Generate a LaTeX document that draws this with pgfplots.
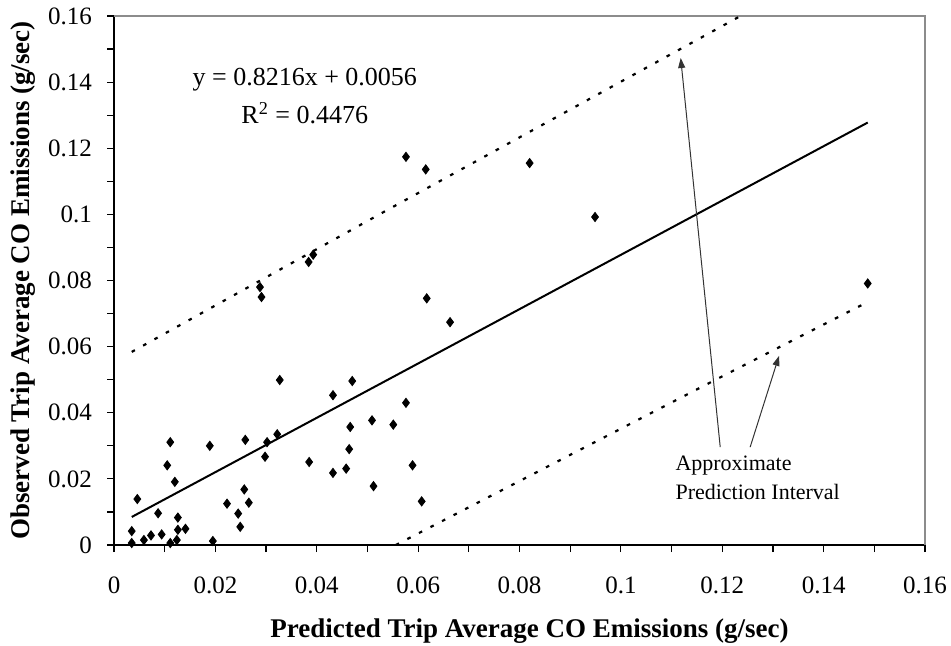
\documentclass[border=0pt]{standalone}
\usepackage{fontspec}
\setmainfont{Liberation Serif}
\usepackage{pgfplots}
\pgfplotsset{compat=1.18}
\usetikzlibrary{calc,arrows.meta}

\pgfplotstableread{
x y
0.0035 0.0042
0.0035 0.0006
0.0046 0.0139
0.0059 0.0015
0.0073 0.0029
0.0087 0.0096
0.0094 0.0032
0.0105 0.0241
0.0111 0.0311
0.0111 0.0006
0.0120 0.0191
0.0124 0.0015
0.0126 0.0083
0.0126 0.0046
0.0141 0.0049
0.0189 0.0300
0.0195 0.0012
0.0223 0.0125
0.0245 0.0095
0.0249 0.0055
0.0257 0.0168
0.0259 0.0318
0.0266 0.0128
0.0288 0.0780
0.0291 0.0750
0.0298 0.0267
0.0302 0.0311
0.0322 0.0335
0.0327 0.0499
0.0384 0.0856
0.0385 0.0251
0.0393 0.0878
0.0432 0.0453
0.0432 0.0218
0.0458 0.0231
0.0464 0.0290
0.0466 0.0357
0.0470 0.0496
0.0509 0.0377
0.0512 0.0178
0.0551 0.0364
0.0576 0.0430
0.0576 0.1174
0.0589 0.0241
0.0607 0.0132
0.0615 0.1136
0.0617 0.0746
0.0663 0.0674
0.0820 0.1155
0.0949 0.0992
0.1487 0.0791
}\obsdata

\begin{document}
\begin{tikzpicture}
\path[use as bounding box] (-57pt,-50.5pt) rectangle (418.5pt,272.5pt);
\begin{axis}[
  at={(0,0)}, anchor=south west,
  scale only axis,
  width=405.5pt, height=264.5pt,
  xmin=0, xmax=0.16, ymin=0, ymax=0.16,
  clip=false,
  axis x line*=bottom, axis y line*=left,
  xtick={0,0.02,0.04,0.06,0.08,0.1,0.12,0.14,0.16},
  ytick={0,0.02,0.04,0.06,0.08,0.1,0.12,0.14,0.16},
  xticklabels={0,0.02,0.04,0.06,0.08,0.1,0.12,0.14,0.16},
  yticklabels={0,0.02,0.04,0.06,0.08,0.1,0.12,0.14,0.16},
  minor x tick num=1, minor y tick num=1,
  tick align=outside, major tick length=3.5pt, minor tick length=3.5pt,
  tick style={black, line width=0.6pt},
  axis line style={black, line width=0.6pt},
  tick label style={font=\fontsize{12.5}{15}\selectfont},
  xticklabel style={yshift=-9pt},
  yticklabel style={xshift=-4pt},
  xlabel={Predicted Trip Average CO Emissions (g/sec)},
  ylabel={Observed Trip Average CO Emissions (g/sec)},
  label style={font=\fontsize{13.5}{16}\selectfont\bfseries},
  xlabel style={at={(axis description cs:0.5,0)}, anchor=center, yshift=-43pt, xshift=5pt},
  ylabel style={at={(axis description cs:0,0.5)}, anchor=center, yshift=45.5pt},
]
\draw[black!45, line width=0.6pt] (rel axis cs:0,1) -- (rel axis cs:1,1) -- (rel axis cs:1,0);
% prediction interval bounds
\addplot[black, line width=1.1pt, dash pattern=on 1.8pt off 4.7pt] coordinates {(0.0035,0.0584) (0.0533,0.1008) (0.1236,0.16)};
\addplot[black, line width=1.1pt, dash pattern=on 1.8pt off 4.7pt] coordinates {(0.0556,0.0) (0.1182,0.0496) (0.1487,0.0735)};
% regression line
\addplot[black, line width=1pt] coordinates {(0.0035,0.00848) (0.1487,0.12777)};
% observations
\addplot[only marks, mark=diamond*, mark size=2.3pt, mark options={fill=black, draw=black}] table[x=x, y=y] {\obsdata};
% annotations
\node[align=center, font=\fontsize{13}{19}\selectfont] at (axis cs:0.03764,0.1358) {y = 0.8216x + 0.0056\\R\textsuperscript{2} = 0.4476};
\node[anchor=west, align=left, font=\fontsize{11}{14.5}\selectfont, inner sep=0pt] at (axis cs:0.1107,0.0203) {Approximate\\Prediction Interval};
\draw[-{Triangle[length=5pt,width=3.5pt]}, line width=0.5pt, black!80] (axis cs:0.1196,0.0296) -- (axis cs:0.1118,0.1473);
\draw[-{Triangle[length=5pt,width=3.5pt]}, line width=0.5pt, black!80] (axis cs:0.1255,0.0296) -- (axis cs:0.1312,0.0572);
\end{axis}
\end{tikzpicture}
\end{document}
